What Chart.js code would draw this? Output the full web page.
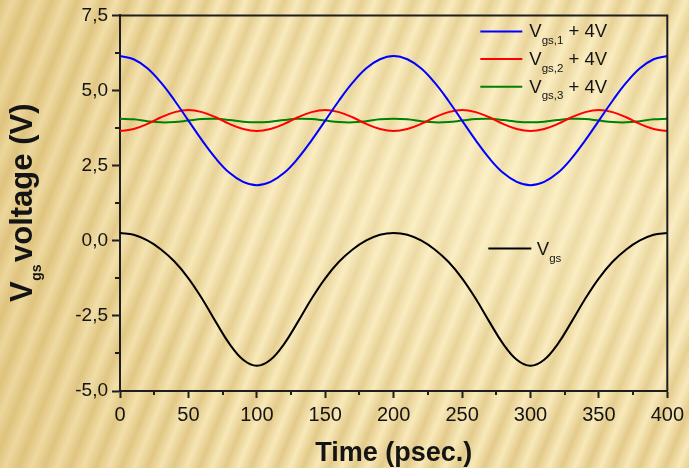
<!DOCTYPE html>
<html>
<head>
<meta charset="utf-8">
<script src="https://cdn.jsdelivr.net/npm/chart.js@4/dist/chart.umd.min.js"></script>
<style>
  html, body { margin: 0; padding: 0; }
  body {
    width: 689px; height: 468px; overflow: hidden;
    background:
      radial-gradient(ellipse at 72% 40%, rgba(255,248,215,0.5) 0%, rgba(255,248,215,0) 65%),
      linear-gradient(90deg, rgba(214,180,100,0.35) 0%, rgba(214,180,100,0) 35%),
      repeating-linear-gradient(112deg, #e3ca8a 0px, #f8e9b9 12px, #e3ca8a 24px),
      #efdca6;
  }
  #wrap { position: absolute; left: 0; top: 0; width: 689px; height: 468px; }
</style>
</head>
<body>
<div id="wrap"><canvas id="c" width="689" height="468"></canvas></div>
<script>
// Time axis samples (psec.)
const time = [0,10,20,30,40,50,60,70,80,90,100,110,120,130,140,150,160,170,180,190,200,
              210,220,230,240,250,260,270,280,290,300,310,320,330,340,350,360,370,380,390,400];

// V_gs,1 + 4V
const vgs1 = [6.15,6.04,5.74,5.26,4.66,4.00,3.34,2.74,2.26,1.96,1.85,1.96,2.26,2.74,3.34,4.00,4.66,5.26,5.74,6.04,6.15,
              6.04,5.74,5.26,4.66,4.00,3.34,2.74,2.26,1.96,1.85,1.96,2.26,2.74,3.34,4.00,4.66,5.26,5.74,6.04,6.15];

// V_gs,2 + 4V
const vgs2 = [3.65,3.72,3.89,4.11,4.28,4.35,4.28,4.11,3.89,3.72,3.65,3.72,3.89,4.11,4.28,4.35,4.28,4.11,3.89,3.72,3.65,
              3.72,3.89,4.11,4.28,4.35,4.28,4.11,3.89,3.72,3.65,3.72,3.89,4.11,4.28,4.35,4.28,4.11,3.89,3.72,3.65];

// V_gs,3 + 4V
const vgs3 = [4.06,4.04,3.98,3.94,3.95,4.00,4.05,4.06,4.02,3.96,3.94,3.96,4.02,4.06,4.05,4.00,3.95,3.94,3.98,4.04,4.06,
              4.04,3.98,3.94,3.95,4.00,4.05,4.06,4.02,3.96,3.94,3.96,4.02,4.06,4.05,4.00,3.95,3.94,3.98,4.04,4.06];

// V_gs
const vgs = [0.26,0.20,0.01,-0.29,-0.70,-1.25,-1.93,-2.70,-3.43,-3.96,-4.16,-3.96,-3.43,-2.70,-1.93,-1.25,-0.70,-0.29,0.01,0.20,0.26,
             0.20,0.01,-0.29,-0.70,-1.25,-1.93,-2.70,-3.43,-3.96,-4.16,-3.96,-3.43,-2.70,-1.93,-1.25,-0.70,-0.29,0.01,0.20,0.26];

// Axis ticks
const xMajorTicks = [0,50,100,150,200,250,300,350,400];
const xMinorTicks = [25,75,125,175,225,275,325,375];
const yMajorTicks = [-5,-2.5,0,2.5,5,7.5];
const yMinorTicks = [-3.75,-1.25,1.25,3.75,6.25];

// Legend entries: label main part, subscript, suffix, colour
const legendLabels = [
  { main: 'V', sub: 'gs,1', tail: ' + 4V', color: '#0000ff' },
  { main: 'V', sub: 'gs,2', tail: ' + 4V', color: '#ff0000' },
  { main: 'V', sub: 'gs,3', tail: ' + 4V', color: '#008000' }
];

const FONT = "'Liberation Sans', Arial, Helvetica, sans-serif";
const INK = '#141414';

const pts = arr => arr.map((v, i) => ({ x: time[i], y: v }));

function line(color, values) {
  return {
    data: pts(values),
    borderColor: color,
    borderWidth: 2,
    pointRadius: 0,
    tension: 0.4,
    fill: false
  };
}

// Box frame (top and right sides) and the short minor ticks
const framePlugin = {
  id: 'frame',
  afterDraw(chart) {
    const { ctx, chartArea: a, scales: { x, y } } = chart;
    ctx.save();
    ctx.strokeStyle = '#1e1e1e';
    ctx.lineWidth = 2;
    ctx.beginPath();
    ctx.moveTo(a.left, a.top);
    ctx.lineTo(a.right, a.top);
    ctx.lineTo(a.right, a.bottom);
    ctx.stroke();

    ctx.lineWidth = 2;
    ctx.beginPath();
    xMinorTicks.forEach(v => {
      const px = Math.round(x.getPixelForValue(v));
      ctx.moveTo(px, a.bottom);
      ctx.lineTo(px, a.bottom + 4);
    });
    yMinorTicks.forEach(v => {
      const py = Math.round(y.getPixelForValue(v));
      ctx.moveTo(a.left, py);
      ctx.lineTo(a.left - 5, py);
    });
    ctx.stroke();
    ctx.restore();
  }
};

// Legends with subscripts, and the rotated y-axis title
const labelsPlugin = {
  id: 'labels',
  afterDraw(chart) {
    const { ctx, chartArea: a } = chart;
    ctx.save();
    ctx.textBaseline = 'alphabetic';
    ctx.textAlign = 'left';
    ctx.fillStyle = INK;

    // upper legend
    const lx0 = a.right - 187, lx1 = a.right - 145;
    legendLabels.forEach((e, i) => {
      const ly = a.top + 16 + i * 27.7;
      ctx.strokeStyle = e.color;
      ctx.lineWidth = 2;
      ctx.beginPath();
      ctx.moveTo(lx0, ly);
      ctx.lineTo(lx1, ly);
      ctx.stroke();
      let tx = lx1 + 7;
      ctx.font = '18.5px ' + FONT;
      ctx.fillText(e.main, tx, ly + 6);
      tx += ctx.measureText(e.main).width;
      ctx.font = '11.5px ' + FONT;
      ctx.fillText(e.sub, tx, ly + 12.5);
      tx += ctx.measureText(e.sub).width;
      ctx.font = '18.5px ' + FONT;
      ctx.fillText(e.tail, tx, ly + 6);
    });

    // lower legend
    const by = 248.5;
    ctx.strokeStyle = '#000';
    ctx.lineWidth = 2;
    ctx.beginPath();
    ctx.moveTo(a.right - 179, by);
    ctx.lineTo(a.right - 136, by);
    ctx.stroke();
    ctx.font = '18.5px ' + FONT;
    ctx.fillText('V', a.right - 130.5, by + 6.5);
    const vw = ctx.measureText('V').width;
    ctx.font = '11.5px ' + FONT;
    ctx.fillText('gs', a.right - 130.5 + vw, by + 13);

    // y-axis title
    ctx.translate(31.5, 302);
    ctx.rotate(-Math.PI / 2);
    ctx.font = 'bold 31px ' + FONT;
    ctx.fillText('V', 0, 0);
    const w1 = ctx.measureText('V').width;
    ctx.font = 'bold 14px ' + FONT;
    ctx.fillText('gs', w1 + 0.5, 9.5);
    ctx.font = 'bold 31px ' + FONT;
    ctx.fillText('voltage (V)', 40, 0);
    ctx.restore();
  }
};

Chart.defaults.font.family = FONT;
Chart.defaults.color = INK;

new Chart(document.getElementById('c'), {
  type: 'line',
  data: {
    datasets: [
      line('#0000ff', vgs1),
      line('#ff0000', vgs2),
      line('#008000', vgs3),
      line('#000000', vgs)
    ]
  },
  options: {
    responsive: false,
    devicePixelRatio: 1,
    animation: false,
    layout: { padding: { left: 0, right: 21, top: 15, bottom: 0 } },
    plugins: { legend: { display: false }, tooltip: { enabled: false } },
    scales: {
      x: {
        type: 'linear',
        min: 0,
        max: 400,
        afterBuildTicks: s => { s.ticks = xMajorTicks.map(v => ({ value: v })); },
        ticks: {
          font: { size: 20 },
          color: INK,
          padding: 5,
          maxRotation: 0,
          callback: v => String(v)
        },
        grid: { drawOnChartArea: false, drawTicks: true, tickLength: 7, tickWidth: 2, tickColor: '#1e1e1e' },
        border: { display: true, color: '#1e1e1e', width: 2 },
        title: {
          display: true,
          text: 'Time (psec.)',
          color: INK,
          font: { size: 27, weight: 'bold' },
          padding: { top: 0, bottom: -2 }
        },
        afterFit: s => { s.height = 77; }
      },
      y: {
        type: 'linear',
        min: -5,
        max: 7.5,
        afterBuildTicks: s => { s.ticks = yMajorTicks.map(v => ({ value: v })); },
        ticks: {
          font: { size: 19 },
          color: INK,
          padding: 4,
          callback: v => v.toFixed(1).replace('.', ',')
        },
        grid: { drawOnChartArea: false, drawTicks: true, tickLength: 8, tickWidth: 2, tickColor: '#1e1e1e' },
        border: { display: true, color: '#1e1e1e', width: 2 },
        afterFit: s => { s.width = 120; }
      }
    }
  },
  plugins: [framePlugin, labelsPlugin]
});
</script>
</body>
</html>
